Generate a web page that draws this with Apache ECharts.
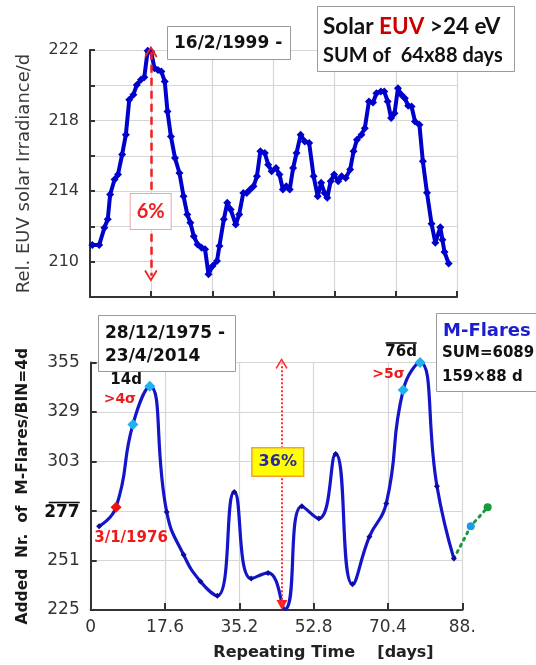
<!DOCTYPE html>
<html><head><meta charset="utf-8">
<script src="https://cdn.jsdelivr.net/npm/echarts@6/dist/echarts.min.js"></script>
<style>html,body{margin:0;padding:0;background:#fff}#c{width:536px;height:665px}</style>
</head><body><div id="c"></div>
<script>
// ---- data ----
const euvDays = [0.57,2.21,3.44,4.26,4.83,5.89,6.71,7.70,8.60,9.41,10.40,11.21,12.20,13.02,13.83,14.65,15.47,16.29,17.11,17.93,18.58,19.40,20.38,21.45,22.43,23.33,24.07,24.89,25.79,26.77,27.59,28.41,29.39,30.45,31.03,32.09,32.91,33.73,34.95,35.77,36.76,37.57,38.39,39.21,40.03,40.85,41.91,42.73,43.55,44.61,45.43,46.25,47.07,47.89,48.71,49.53,50.51,51.49,52.55,53.62,54.60,55.42,56.24,56.89,57.71,58.53,59.51,60.33,61.31,62.38,63.20,64.01,65.08,65.90,66.88,67.86,68.68,69.75,70.56,71.38,72.20,73.02,73.84,74.66,75.48,76.30,77.11,77.93,78.99,79.81,80.80,81.90,82.80,84.00,84.50,85.00,86.00];
const euvValues = [210.95,210.95,211.92,212.40,213.81,214.66,214.94,216.07,217.20,219.18,219.46,220.02,220.31,220.46,221.96,221.91,220.96,220.87,220.78,220.21,218.52,217.10,215.88,215.03,213.71,212.68,212.21,211.45,210.98,210.79,210.70,209.29,209.76,210.04,210.89,212.40,213.34,212.96,212.11,212.68,213.90,213.90,214.09,214.28,214.84,216.26,216.16,215.50,215.13,215.31,214.94,214.09,214.28,214.09,215.31,216.16,217.20,216.82,216.73,214.84,213.71,214.47,213.90,213.62,214.56,214.94,214.56,214.84,214.75,215.22,216.26,216.92,217.20,217.57,219.08,219.02,219.55,219.65,219.65,219.08,218.14,218.42,219.83,219.46,219.27,218.84,218.80,217.95,217.76,215.69,213.91,212.15,211.08,211.95,211.25,210.55,209.90];

const flareDays   = [2,6,10,14,18,22,26,30,34,38,42,46,50,54,58,62,66,70,74,78,82,86];
const flareValues = [269,279,322.5,342.5,276.5,254,240,232.5,287,241.5,244.5,225.5,279.5,273,307,238.5,263.5,281,340.5,355,290,252];
const wrapDays   = [86,90,94];
const wrapValues = [252,269,279];

const cyanDays = [10,14,74,78];
const redDays  = [6];
const minDays  = [46];
const peakLabelDay = 78;

const topYTickLabels = [210,214,218,222];
const bottomXTickLabels = ['0','17.6','35.2','52.8','70.4','88.'];
const bottomYTickLabels = [225,251,277,303,329,355];
const meanLabel = 277;

// ---- styling ----
const BLUE = '#0000cc';
const FLARE = '#1414c8';
const GRID = '#d6d6d6';
const AX = '#333';
const DJ = '"DejaVu Sans", sans-serif';

const chevron = 'path://M0,0L10,12L8,13.6L0,3.8L-8,13.6L-10,12Z';

const overRich = {
  o: { width: 31, height: 1.6, lineHeight: 4, backgroundColor: '#111', fontSize: 2 },
  t: { fontFamily: DJ, fontWeight: 'bold', fontSize: 15, color: '#111' },
  m: { fontFamily: DJ, fontWeight: 'bold', fontSize: 17, color: '#111' }
};

const flareData = flareDays.map((d, i) => {
  const item = { value: [d, flareValues[i]] };
  if (cyanDays.includes(d)) {
    item.symbol = 'diamond'; item.symbolSize = 11; item.itemStyle = { color: '#1fb2ee' };
  } else if (redDays.includes(d)) {
    item.symbol = 'diamond'; item.symbolSize = 11; item.itemStyle = { color: '#ee1111' };
  } else if (minDays.includes(d)) {
    item.symbol = 'triangle'; item.symbolRotate = 180; item.symbolSize = [11, 10];
    item.symbolOffset = [-3, -4]; item.itemStyle = { color: '#ff2020' };
  }
  if (d === peakLabelDay) {
    item.label = {
      show: true, position: 'top', offset: [-19, 8], align: 'center',
      formatter: '{o| }\n{t|76d}', rich: overRich
    };
  }
  return item;
});
const wrapData = wrapDays.map((d, i) => {
  const item = { value: [d, wrapValues[i]] };
  if (i === 0) item.symbolSize = 0;
  if (i === 1) item.itemStyle = { color: '#1a9be6' };
  if (i === 2) item.itemStyle = { color: '#159a3c' };
  return item;
});

function txt(coord, text, color, size, extra) {
  return {
    coord: coord, symbol: 'circle', symbolSize: 1,
    itemStyle: { color: 'rgba(0,0,0,0)' },
    label: Object.assign({
      show: true, position: 'inside', formatter: text, color: color,
      fontFamily: DJ, fontWeight: 'bold', fontSize: size
    }, extra || {})
  };
}

const chart = echarts.init(document.getElementById('c'), null, { renderer: 'canvas' });
chart.setOption({
  animation: false,
  backgroundColor: '#fff',
  grid: [
    { left: 90, top: 50, width: 367, height: 247 },
    { left: 90.7, top: 362.5, width: 371.6, height: 247.5 },
    { left: 90.7, top: 362.5, width: 371.6 * 94 / 88, height: 247.5 }
  ],
  xAxis: [
    {
      gridIndex: 0, type: 'value', min: 0, max: 88, interval: 88 / 6,
      axisLine: { lineStyle: { color: AX, width: 2 } },
      axisTick: { inside: true, length: 6, lineStyle: { color: AX, width: 2 } },
      axisLabel: { show: false },
      splitLine: { show: true, lineStyle: { color: GRID, width: 1.2 } }
    },
    {
      gridIndex: 1, type: 'value', min: 0, max: 88, interval: 17.6,
      axisLine: { lineStyle: { color: AX, width: 2 } },
      axisTick: { inside: true, length: 7, lineStyle: { color: AX, width: 2 } },
      axisLabel: {
        margin: 9, color: '#333', fontFamily: DJ, fontSize: 17,
        formatter: v => bottomXTickLabels[Math.round(v / 17.6)] ?? ''
      },
      splitLine: { show: true, lineStyle: { color: GRID, width: 1.2 } },
      name: 'Repeating Time    [days]', nameLocation: 'middle', nameGap: 35,
      nameTextStyle: { fontFamily: DJ, fontWeight: 'bold', fontSize: 16, color: '#222', padding: [0, 0, 0, 94] }
    },
    { gridIndex: 2, type: 'value', min: 0, max: 94, show: false }
  ],
  yAxis: [
    {
      gridIndex: 0, type: 'value', min: 208, max: 222, interval: 2,
      axisLine: { show: true, lineStyle: { color: AX, width: 2 } },
      axisTick: { show: true, inside: true, length: 5, lineStyle: { color: AX, width: 2 } },
      axisLabel: {
        margin: 11, color: '#333', fontFamily: DJ, fontSize: 16,
        formatter: v => topYTickLabels.includes(v) ? String(v) : ''
      },
      splitLine: { show: true, lineStyle: { color: GRID, width: 1.2 } },
      name: 'Rel. EUV solar Irradiance/d', nameLocation: 'middle', nameGap: 57,
      nameTextStyle: { fontFamily: DJ, fontSize: 18, color: '#3a3a3a' }
    },
    {
      gridIndex: 1, type: 'value', min: 225, max: 355, interval: 26,
      axisLine: { show: true, lineStyle: { color: AX, width: 2 } },
      axisTick: { show: true, inside: true, length: 6, lineStyle: { color: AX, width: 2 } },
      axisLabel: {
        margin: 11, color: '#333', fontFamily: DJ, fontSize: 17,
        formatter: v => v === meanLabel ? '{o| }\n{m|' + v + '}' : (bottomYTickLabels.includes(v) ? String(v) : ''),
        rich: overRich
      },
      splitLine: { show: true, lineStyle: { color: GRID, width: 1.2 } },
      name: 'Added  Nr.  of  M-Flares/BIN=4d', nameLocation: 'middle', nameGap: 60,
      nameTextStyle: { fontFamily: DJ, fontWeight: 'bold', fontSize: 15.5, color: '#1a1a1a' }
    },
    { gridIndex: 2, type: 'value', min: 225, max: 355, show: false }
  ],
  series: [
    {
      type: 'line', xAxisIndex: 0, yAxisIndex: 0,
      data: euvDays.map((d, i) => [d, euvValues[i]]),
      lineStyle: { color: BLUE, width: 4 },
      itemStyle: { color: BLUE },
      symbol: 'diamond', symbolSize: 8, z: 3,
      markLine: {
        silent: true, symbol: [chevron, chevron], symbolSize: [13, 12],
        lineStyle: { color: '#ee2222', type: [8, 5], width: 2.5 },
        label: { show: false },
        data: [[{ coord: [14.6, 221.9] }, { coord: [14.6, 209.2] }]]
      },
      markPoint: {
        silent: true,
        data: [
          txt([14.55, 212.85], '6%', '#ee2020', 20, {
            backgroundColor: '#fff', borderColor: '#f4a3a3', borderWidth: 1,
            padding: [8, 6, 7, 6], fontFamily: 'Lato, sans-serif'
          })
        ]
      }
    },
    {
      type: 'line', xAxisIndex: 1, yAxisIndex: 1,
      data: flareData, smooth: 0.5,
      lineStyle: { color: FLARE, width: 3.2 },
      itemStyle: { color: '#0c0c9a' },
      symbol: 'diamond', symbolSize: 6, z: 3,
      markLine: {
        silent: true, symbol: ['none', chevron], symbolSize: [12, 11],
        lineStyle: { color: '#ff3030', type: 'dotted', width: 2 },
        itemStyle: { color: '#ff2020' },
        label: { show: false },
        data: [[{ coord: [45.2, 228] }, { coord: [45.2, 354.5] }]]
      },
      markPoint: {
        silent: true,
        data: [
          txt([44.3, 302.7], '36%', '#2a2aa0', 16, {
            backgroundColor: '#ffff00', borderColor: '#f2a13a', borderWidth: 1.5,
            padding: [6, 6, 5, 6]
          }),
          txt([8.4, 345.8], '14d', '#111', 15),
          txt([6.9, 335.7], '>4σ', '#ee1a1a', 14),
          txt([9.55, 262.6], '3/1/1976', '#ee1a1a', 15),
          txt([70.5, 349.0], '>5σ', '#ee1a1a', 14)
        ]
      }
    },
    {
      type: 'line', xAxisIndex: 2, yAxisIndex: 2,
      data: wrapData, clip: false,
      lineStyle: { color: '#1a9a40', width: 3, type: [2, 5], cap: 'round' },
      itemStyle: { color: '#1a9a40' },
      symbol: 'circle', symbolSize: 8, z: 2
    }
  ],
  graphic: [
    { type: 'rect', z: 10, shape: { x: 167.5, y: 26.5, width: 123, height: 33 }, style: { fill: '#fff', stroke: '#9a9a9a', lineWidth: 1 } },
    { type: 'text', z: 11, x: 174, y: 43.5, style: { text: '16/2/1999 -', font: 'bold 17px "DejaVu Sans"', fill: '#111', align: 'left', verticalAlign: 'middle' } },

    { type: 'rect', z: 10, shape: { x: 317.5, y: 6.5, width: 197, height: 65 }, style: { fill: '#fff', stroke: '#9a9a9a', lineWidth: 1 } },
    { type: 'text', z: 11, x: 323, y: 27, style: {
        text: '{a|Solar }{r|EUV}{a| >24 eV}', align: 'left', verticalAlign: 'middle',
        rich: {
          a: { font: 'bold 22.5px Lato', fill: '#111' },
          r: { font: 'bold 22.5px Lato', fill: '#cc0000' }
        } } },
    { type: 'text', z: 11, x: 323, y: 56, style: { text: 'SUM of  64x88 days', font: 'bold 20px Lato', fill: '#111', align: 'left', verticalAlign: 'middle' } },

    { type: 'rect', z: 10, shape: { x: 98.5, y: 315.5, width: 137, height: 56 }, style: { fill: '#fff', stroke: '#9a9a9a', lineWidth: 1 } },
    { type: 'text', z: 11, x: 105, y: 333.3, style: { text: '28/12/1975 -', font: 'bold 17px "DejaVu Sans"', fill: '#111', align: 'left', verticalAlign: 'middle' } },
    { type: 'text', z: 11, x: 105, y: 356.7, style: { text: '23/4/2014', font: 'bold 17px "DejaVu Sans"', fill: '#111', align: 'left', verticalAlign: 'middle' } },

    { type: 'rect', z: 10, shape: { x: 436.5, y: 313.5, width: 110, height: 78 }, style: { fill: '#fff', stroke: '#9a9a9a', lineWidth: 1 } },
    { type: 'text', z: 11, x: 443, y: 331.5, style: { text: 'M-Flares', font: 'bold 18px "DejaVu Sans"', fill: '#1c1cd0', align: 'left', verticalAlign: 'middle' } },
    { type: 'text', z: 11, x: 442, y: 353.5, style: { text: 'SUM=6089', font: 'bold 15px "DejaVu Sans"', fill: '#111', align: 'left', verticalAlign: 'middle' } },
    { type: 'text', z: 11, x: 442, y: 377.5, style: { text: '159\u00d788 d', font: 'bold 15px "DejaVu Sans"', fill: '#111', align: 'left', verticalAlign: 'middle' } }
  ]
});
</script>
</body></html>
